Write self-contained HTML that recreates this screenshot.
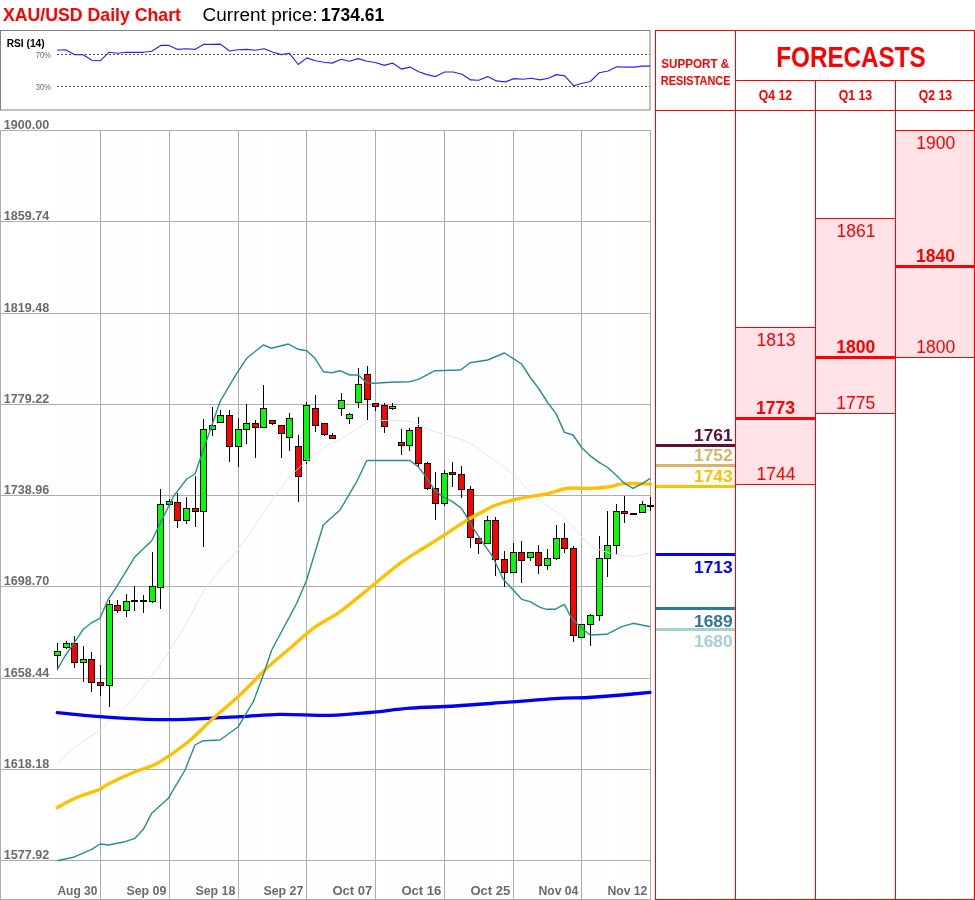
<!DOCTYPE html><html><head><meta charset="utf-8"><style>html,body{margin:0;padding:0;background:#fff;width:975px;height:900px;overflow:hidden}svg{display:block;will-change:transform}text{font-family:"Liberation Sans",sans-serif}</style></head><body>
<svg width="975" height="900" viewBox="0 0 975 900">
<text x="3" y="21" font-size="18.2" font-weight="bold" fill="#ff0000" textLength="178" lengthAdjust="spacingAndGlyphs">XAU/USD Daily Chart</text>
<text x="202.6" y="21" font-size="18" fill="#000" textLength="115" lengthAdjust="spacingAndGlyphs">Current price:</text>
<text x="321" y="21" font-size="18" font-weight="bold" fill="#000" textLength="63.2" lengthAdjust="spacingAndGlyphs">1734.61</text>
<rect x="0.5" y="30.5" width="649.5" height="79.5" fill="none" stroke="#808080" stroke-width="1"/>
<text x="6.7" y="47" font-size="11.3" font-weight="bold" fill="#000" textLength="38" lengthAdjust="spacingAndGlyphs">RSI (14)</text>
<text x="35.8" y="58" font-size="8.5" fill="#666" textLength="15" lengthAdjust="spacingAndGlyphs">70%</text>
<text x="35.8" y="90" font-size="8.5" fill="#666" textLength="15" lengthAdjust="spacingAndGlyphs">30%</text>
<line x1="57" y1="54.5" x2="650" y2="54.5" stroke="#555" stroke-width="1" stroke-dasharray="2,2"/>
<line x1="57" y1="86.5" x2="650" y2="86.5" stroke="#555" stroke-width="1" stroke-dasharray="2,2"/>
<polyline points="57.1,50.3 65.6,49.7 74.5,54.6 82.7,54.6 91.9,60.2 100.1,60.8 108.9,52.3 117.8,53.3 126.0,52.3 135.2,52.3 143.4,52.3 151.6,51.3 160.8,45.4 169.0,45.4 177.8,49.4 186.7,48.7 194.9,49.4 203.4,44.4 212.3,44.4 220.5,44.1 229.4,51.0 237.9,49.7 246.8,49.4 255.0,50.3 264.2,48.7 273.0,52.3 281.2,54.6 289.4,53.3 298.3,64.5 306.8,57.9 315.7,60.8 323.9,62.2 332.1,63.1 341.0,59.2 349.5,61.2 358.0,58.6 366.9,61.2 375.4,62.5 384.3,65.4 392.5,63.1 401.4,69.1 409.9,67.1 418.8,71.7 427.0,74.6 435.8,76.6 444.4,72.0 453.2,72.0 462.1,74.3 470.6,79.9 478.8,80.2 487.7,76.6 496.5,80.9 505.1,81.9 513.9,78.6 522.8,79.2 531.3,78.2 540.2,79.9 548.4,78.2 556.6,74.6 564.8,75.9 573.7,85.8 582.2,83.2 590.4,81.5 599.3,72.7 608.1,71.0 616.7,66.8 625.5,67.1 634.4,67.1 641.9,66.1 650.1,66.1" fill="none" stroke="#2424f4" stroke-width="1.15" stroke-linejoin="round"/>
<line x1="57.5" y1="130" x2="57.5" y2="899" stroke="#fcfcfc" stroke-width="1"/>
<line x1="66.5" y1="130" x2="66.5" y2="899" stroke="#fcfcfc" stroke-width="1"/>
<line x1="74.5" y1="130" x2="74.5" y2="899" stroke="#fcfcfc" stroke-width="1"/>
<line x1="83.5" y1="130" x2="83.5" y2="899" stroke="#fcfcfc" stroke-width="1"/>
<line x1="91.5" y1="130" x2="91.5" y2="899" stroke="#fcfcfc" stroke-width="1"/>
<line x1="100.5" y1="130" x2="100.5" y2="899" stroke="#fcfcfc" stroke-width="1"/>
<line x1="109.5" y1="130" x2="109.5" y2="899" stroke="#fcfcfc" stroke-width="1"/>
<line x1="117.5" y1="130" x2="117.5" y2="899" stroke="#fcfcfc" stroke-width="1"/>
<line x1="126.5" y1="130" x2="126.5" y2="899" stroke="#fcfcfc" stroke-width="1"/>
<line x1="134.5" y1="130" x2="134.5" y2="899" stroke="#fcfcfc" stroke-width="1"/>
<line x1="143.5" y1="130" x2="143.5" y2="899" stroke="#fcfcfc" stroke-width="1"/>
<line x1="152.5" y1="130" x2="152.5" y2="899" stroke="#fcfcfc" stroke-width="1"/>
<line x1="160.5" y1="130" x2="160.5" y2="899" stroke="#fcfcfc" stroke-width="1"/>
<line x1="169.5" y1="130" x2="169.5" y2="899" stroke="#fcfcfc" stroke-width="1"/>
<line x1="177.5" y1="130" x2="177.5" y2="899" stroke="#fcfcfc" stroke-width="1"/>
<line x1="186.5" y1="130" x2="186.5" y2="899" stroke="#fcfcfc" stroke-width="1"/>
<line x1="195.5" y1="130" x2="195.5" y2="899" stroke="#fcfcfc" stroke-width="1"/>
<line x1="203.5" y1="130" x2="203.5" y2="899" stroke="#fcfcfc" stroke-width="1"/>
<line x1="212.5" y1="130" x2="212.5" y2="899" stroke="#fcfcfc" stroke-width="1"/>
<line x1="220.5" y1="130" x2="220.5" y2="899" stroke="#fcfcfc" stroke-width="1"/>
<line x1="229.5" y1="130" x2="229.5" y2="899" stroke="#fcfcfc" stroke-width="1"/>
<line x1="238.5" y1="130" x2="238.5" y2="899" stroke="#fcfcfc" stroke-width="1"/>
<line x1="246.5" y1="130" x2="246.5" y2="899" stroke="#fcfcfc" stroke-width="1"/>
<line x1="255.5" y1="130" x2="255.5" y2="899" stroke="#fcfcfc" stroke-width="1"/>
<line x1="263.5" y1="130" x2="263.5" y2="899" stroke="#fcfcfc" stroke-width="1"/>
<line x1="272.5" y1="130" x2="272.5" y2="899" stroke="#fcfcfc" stroke-width="1"/>
<line x1="281.5" y1="130" x2="281.5" y2="899" stroke="#fcfcfc" stroke-width="1"/>
<line x1="289.5" y1="130" x2="289.5" y2="899" stroke="#fcfcfc" stroke-width="1"/>
<line x1="298.5" y1="130" x2="298.5" y2="899" stroke="#fcfcfc" stroke-width="1"/>
<line x1="306.5" y1="130" x2="306.5" y2="899" stroke="#fcfcfc" stroke-width="1"/>
<line x1="315.5" y1="130" x2="315.5" y2="899" stroke="#fcfcfc" stroke-width="1"/>
<line x1="324.5" y1="130" x2="324.5" y2="899" stroke="#fcfcfc" stroke-width="1"/>
<line x1="332.5" y1="130" x2="332.5" y2="899" stroke="#fcfcfc" stroke-width="1"/>
<line x1="341.5" y1="130" x2="341.5" y2="899" stroke="#fcfcfc" stroke-width="1"/>
<line x1="349.5" y1="130" x2="349.5" y2="899" stroke="#fcfcfc" stroke-width="1"/>
<line x1="358.5" y1="130" x2="358.5" y2="899" stroke="#fcfcfc" stroke-width="1"/>
<line x1="367.5" y1="130" x2="367.5" y2="899" stroke="#fcfcfc" stroke-width="1"/>
<line x1="375.5" y1="130" x2="375.5" y2="899" stroke="#fcfcfc" stroke-width="1"/>
<line x1="384.5" y1="130" x2="384.5" y2="899" stroke="#fcfcfc" stroke-width="1"/>
<line x1="392.5" y1="130" x2="392.5" y2="899" stroke="#fcfcfc" stroke-width="1"/>
<line x1="401.5" y1="130" x2="401.5" y2="899" stroke="#fcfcfc" stroke-width="1"/>
<line x1="409.5" y1="130" x2="409.5" y2="899" stroke="#fcfcfc" stroke-width="1"/>
<line x1="418.5" y1="130" x2="418.5" y2="899" stroke="#fcfcfc" stroke-width="1"/>
<line x1="427.5" y1="130" x2="427.5" y2="899" stroke="#fcfcfc" stroke-width="1"/>
<line x1="435.5" y1="130" x2="435.5" y2="899" stroke="#fcfcfc" stroke-width="1"/>
<line x1="444.5" y1="130" x2="444.5" y2="899" stroke="#fcfcfc" stroke-width="1"/>
<line x1="452.5" y1="130" x2="452.5" y2="899" stroke="#fcfcfc" stroke-width="1"/>
<line x1="461.5" y1="130" x2="461.5" y2="899" stroke="#fcfcfc" stroke-width="1"/>
<line x1="470.5" y1="130" x2="470.5" y2="899" stroke="#fcfcfc" stroke-width="1"/>
<line x1="478.5" y1="130" x2="478.5" y2="899" stroke="#fcfcfc" stroke-width="1"/>
<line x1="487.5" y1="130" x2="487.5" y2="899" stroke="#fcfcfc" stroke-width="1"/>
<line x1="495.5" y1="130" x2="495.5" y2="899" stroke="#fcfcfc" stroke-width="1"/>
<line x1="504.5" y1="130" x2="504.5" y2="899" stroke="#fcfcfc" stroke-width="1"/>
<line x1="513.5" y1="130" x2="513.5" y2="899" stroke="#fcfcfc" stroke-width="1"/>
<line x1="521.5" y1="130" x2="521.5" y2="899" stroke="#fcfcfc" stroke-width="1"/>
<line x1="530.5" y1="130" x2="530.5" y2="899" stroke="#fcfcfc" stroke-width="1"/>
<line x1="538.5" y1="130" x2="538.5" y2="899" stroke="#fcfcfc" stroke-width="1"/>
<line x1="547.5" y1="130" x2="547.5" y2="899" stroke="#fcfcfc" stroke-width="1"/>
<line x1="556.5" y1="130" x2="556.5" y2="899" stroke="#fcfcfc" stroke-width="1"/>
<line x1="564.5" y1="130" x2="564.5" y2="899" stroke="#fcfcfc" stroke-width="1"/>
<line x1="573.5" y1="130" x2="573.5" y2="899" stroke="#fcfcfc" stroke-width="1"/>
<line x1="581.5" y1="130" x2="581.5" y2="899" stroke="#fcfcfc" stroke-width="1"/>
<line x1="590.5" y1="130" x2="590.5" y2="899" stroke="#fcfcfc" stroke-width="1"/>
<line x1="599.5" y1="130" x2="599.5" y2="899" stroke="#fcfcfc" stroke-width="1"/>
<line x1="607.5" y1="130" x2="607.5" y2="899" stroke="#fcfcfc" stroke-width="1"/>
<line x1="616.5" y1="130" x2="616.5" y2="899" stroke="#fcfcfc" stroke-width="1"/>
<line x1="624.5" y1="130" x2="624.5" y2="899" stroke="#fcfcfc" stroke-width="1"/>
<line x1="633.5" y1="130" x2="633.5" y2="899" stroke="#fcfcfc" stroke-width="1"/>
<line x1="642.5" y1="130" x2="642.5" y2="899" stroke="#fcfcfc" stroke-width="1"/>
<line x1="650.5" y1="130" x2="650.5" y2="899" stroke="#fcfcfc" stroke-width="1"/>
<line x1="0" y1="130.5" x2="650" y2="130.5" stroke="#adadad" stroke-width="1"/>
<line x1="0" y1="221.5" x2="650" y2="221.5" stroke="#adadad" stroke-width="1"/>
<line x1="0" y1="313.5" x2="650" y2="313.5" stroke="#adadad" stroke-width="1"/>
<line x1="0" y1="404.5" x2="650" y2="404.5" stroke="#adadad" stroke-width="1"/>
<line x1="0" y1="495.5" x2="650" y2="495.5" stroke="#adadad" stroke-width="1"/>
<line x1="0" y1="586.5" x2="650" y2="586.5" stroke="#adadad" stroke-width="1"/>
<line x1="0" y1="678.5" x2="650" y2="678.5" stroke="#adadad" stroke-width="1"/>
<line x1="0" y1="769.5" x2="650" y2="769.5" stroke="#adadad" stroke-width="1"/>
<line x1="0" y1="860.5" x2="650" y2="860.5" stroke="#adadad" stroke-width="1"/>
<line x1="100.5" y1="130" x2="100.5" y2="899" stroke="#adadad" stroke-width="1"/>
<line x1="169.5" y1="130" x2="169.5" y2="899" stroke="#adadad" stroke-width="1"/>
<line x1="238.5" y1="130" x2="238.5" y2="899" stroke="#adadad" stroke-width="1"/>
<line x1="306.5" y1="130" x2="306.5" y2="899" stroke="#adadad" stroke-width="1"/>
<line x1="375.5" y1="130" x2="375.5" y2="899" stroke="#adadad" stroke-width="1"/>
<line x1="444.5" y1="130" x2="444.5" y2="899" stroke="#adadad" stroke-width="1"/>
<line x1="513.5" y1="130" x2="513.5" y2="899" stroke="#adadad" stroke-width="1"/>
<line x1="581.5" y1="130" x2="581.5" y2="899" stroke="#adadad" stroke-width="1"/>
<line x1="650.5" y1="130" x2="650.5" y2="899" stroke="#adadad" stroke-width="1"/>
<line x1="0.5" y1="130" x2="0.5" y2="899" stroke="#adadad" stroke-width="1"/>
<line x1="0" y1="899.5" x2="651" y2="899.5" stroke="#adadad" stroke-width="1"/>
<text x="3.7" y="129.0" font-size="12.6" font-weight="bold" fill="#6b6b6b" textLength="45.5" lengthAdjust="spacingAndGlyphs">1900.00</text>
<text x="3.7" y="220.2" font-size="12.6" font-weight="bold" fill="#6b6b6b" textLength="45.5" lengthAdjust="spacingAndGlyphs">1859.74</text>
<text x="3.7" y="311.5" font-size="12.6" font-weight="bold" fill="#6b6b6b" textLength="45.5" lengthAdjust="spacingAndGlyphs">1819.48</text>
<text x="3.7" y="402.8" font-size="12.6" font-weight="bold" fill="#6b6b6b" textLength="45.5" lengthAdjust="spacingAndGlyphs">1779.22</text>
<text x="3.7" y="494.0" font-size="12.6" font-weight="bold" fill="#6b6b6b" textLength="45.5" lengthAdjust="spacingAndGlyphs">1738.96</text>
<text x="3.7" y="585.2" font-size="12.6" font-weight="bold" fill="#6b6b6b" textLength="45.5" lengthAdjust="spacingAndGlyphs">1698.70</text>
<text x="3.7" y="676.5" font-size="12.6" font-weight="bold" fill="#6b6b6b" textLength="45.5" lengthAdjust="spacingAndGlyphs">1658.44</text>
<text x="3.7" y="767.8" font-size="12.6" font-weight="bold" fill="#6b6b6b" textLength="45.5" lengthAdjust="spacingAndGlyphs">1618.18</text>
<text x="3.7" y="859.0" font-size="12.6" font-weight="bold" fill="#6b6b6b" textLength="45.5" lengthAdjust="spacingAndGlyphs">1577.92</text>
<text x="97.4" y="895" font-size="13" font-weight="bold" fill="#6b6b6b" text-anchor="end" textLength="40" lengthAdjust="spacingAndGlyphs">Aug 30</text>
<text x="166.4" y="895" font-size="13" font-weight="bold" fill="#6b6b6b" text-anchor="end" textLength="40" lengthAdjust="spacingAndGlyphs">Sep 09</text>
<text x="235.4" y="895" font-size="13" font-weight="bold" fill="#6b6b6b" text-anchor="end" textLength="40" lengthAdjust="spacingAndGlyphs">Sep 18</text>
<text x="303.4" y="895" font-size="13" font-weight="bold" fill="#6b6b6b" text-anchor="end" textLength="40" lengthAdjust="spacingAndGlyphs">Sep 27</text>
<text x="372.4" y="895" font-size="13" font-weight="bold" fill="#6b6b6b" text-anchor="end" textLength="40" lengthAdjust="spacingAndGlyphs">Oct 07</text>
<text x="441.4" y="895" font-size="13" font-weight="bold" fill="#6b6b6b" text-anchor="end" textLength="40" lengthAdjust="spacingAndGlyphs">Oct 16</text>
<text x="510.4" y="895" font-size="13" font-weight="bold" fill="#6b6b6b" text-anchor="end" textLength="40" lengthAdjust="spacingAndGlyphs">Oct 25</text>
<text x="578.4" y="895" font-size="13" font-weight="bold" fill="#6b6b6b" text-anchor="end" textLength="40" lengthAdjust="spacingAndGlyphs">Nov 04</text>
<text x="647.4" y="895" font-size="13" font-weight="bold" fill="#6b6b6b" text-anchor="end" textLength="40" lengthAdjust="spacingAndGlyphs">Nov 12</text>
<rect x="57" y="643" width="1" height="27" fill="#000"/>
<rect x="54" y="651" width="7" height="5" fill="#000"/>
<rect x="55" y="652" width="5" height="3" fill="#00ff00"/>
<rect x="66" y="641" width="1" height="8" fill="#000"/>
<rect x="63" y="643" width="7" height="5" fill="#000"/>
<rect x="64" y="644" width="5" height="3" fill="#00ff00"/>
<rect x="74" y="636" width="1" height="32" fill="#000"/>
<rect x="71" y="643" width="7" height="20" fill="#000"/>
<rect x="72" y="644" width="5" height="18" fill="#ff0000"/>
<rect x="83" y="646" width="1" height="36" fill="#000"/>
<rect x="80" y="659" width="7" height="4" fill="#000"/>
<rect x="81" y="660" width="5" height="2" fill="#00ff00"/>
<rect x="91" y="652" width="1" height="40" fill="#000"/>
<rect x="88" y="659" width="7" height="24" fill="#000"/>
<rect x="89" y="660" width="5" height="22" fill="#ff0000"/>
<rect x="100" y="665" width="1" height="31" fill="#000"/>
<rect x="97" y="682" width="7" height="4" fill="#000"/>
<rect x="98" y="683" width="5" height="2" fill="#ff0000"/>
<rect x="109" y="600" width="1" height="107" fill="#000"/>
<rect x="106" y="604" width="7" height="82" fill="#000"/>
<rect x="107" y="605" width="5" height="80" fill="#00ff00"/>
<rect x="117" y="600" width="1" height="13" fill="#000"/>
<rect x="114" y="605" width="7" height="6" fill="#000"/>
<rect x="115" y="606" width="5" height="4" fill="#ff0000"/>
<rect x="126" y="594" width="1" height="23" fill="#000"/>
<rect x="123" y="601" width="7" height="10" fill="#000"/>
<rect x="124" y="602" width="5" height="8" fill="#00ff00"/>
<rect x="134" y="586" width="1" height="25" fill="#000"/>
<rect x="131" y="600" width="7" height="2" fill="#000"/>
<rect x="143" y="595" width="1" height="18" fill="#000"/>
<rect x="140" y="600" width="7" height="2" fill="#000"/>
<rect x="152" y="552" width="1" height="51" fill="#000"/>
<rect x="149" y="586" width="7" height="16" fill="#000"/>
<rect x="150" y="587" width="5" height="14" fill="#00ff00"/>
<rect x="160" y="489" width="1" height="120" fill="#000"/>
<rect x="157" y="504" width="7" height="84" fill="#000"/>
<rect x="158" y="505" width="5" height="82" fill="#00ff00"/>
<rect x="169" y="499" width="1" height="7" fill="#000"/>
<rect x="166" y="501" width="7" height="4" fill="#000"/>
<rect x="167" y="502" width="5" height="2" fill="#00ff00"/>
<rect x="177" y="493" width="1" height="35" fill="#000"/>
<rect x="174" y="502" width="7" height="19" fill="#000"/>
<rect x="175" y="503" width="5" height="17" fill="#ff0000"/>
<rect x="186" y="497" width="1" height="27" fill="#000"/>
<rect x="183" y="508" width="7" height="13" fill="#000"/>
<rect x="184" y="509" width="5" height="11" fill="#00ff00"/>
<rect x="195" y="476" width="1" height="51" fill="#000"/>
<rect x="192" y="508" width="7" height="4" fill="#000"/>
<rect x="193" y="509" width="5" height="2" fill="#ff0000"/>
<rect x="203" y="419" width="1" height="128" fill="#000"/>
<rect x="200" y="429" width="7" height="83" fill="#000"/>
<rect x="201" y="430" width="5" height="81" fill="#00ff00"/>
<rect x="212" y="407" width="1" height="29" fill="#000"/>
<rect x="209" y="425" width="7" height="5" fill="#000"/>
<rect x="210" y="426" width="5" height="3" fill="#00ff00"/>
<rect x="220" y="410" width="1" height="13" fill="#000"/>
<rect x="217" y="415" width="7" height="8" fill="#000"/>
<rect x="218" y="416" width="5" height="6" fill="#00ff00"/>
<rect x="229" y="410" width="1" height="52" fill="#000"/>
<rect x="226" y="415" width="7" height="32" fill="#000"/>
<rect x="227" y="416" width="5" height="30" fill="#ff0000"/>
<rect x="238" y="418" width="1" height="49" fill="#000"/>
<rect x="235" y="429" width="7" height="18" fill="#000"/>
<rect x="236" y="430" width="5" height="16" fill="#00ff00"/>
<rect x="246" y="404" width="1" height="40" fill="#000"/>
<rect x="243" y="423" width="7" height="7" fill="#000"/>
<rect x="244" y="424" width="5" height="5" fill="#00ff00"/>
<rect x="255" y="420" width="1" height="38" fill="#000"/>
<rect x="252" y="423" width="7" height="5" fill="#000"/>
<rect x="253" y="424" width="5" height="3" fill="#ff0000"/>
<rect x="263" y="385" width="1" height="43" fill="#000"/>
<rect x="260" y="408" width="7" height="20" fill="#000"/>
<rect x="261" y="409" width="5" height="18" fill="#00ff00"/>
<rect x="272" y="420" width="1" height="5" fill="#000"/>
<rect x="269" y="420" width="7" height="4" fill="#000"/>
<rect x="270" y="421" width="5" height="2" fill="#ff0000"/>
<rect x="281" y="425" width="1" height="33" fill="#000"/>
<rect x="278" y="425" width="7" height="9" fill="#000"/>
<rect x="279" y="426" width="5" height="7" fill="#ff0000"/>
<rect x="289" y="413" width="1" height="38" fill="#000"/>
<rect x="286" y="418" width="7" height="20" fill="#000"/>
<rect x="287" y="419" width="5" height="18" fill="#00ff00"/>
<rect x="298" y="435" width="1" height="67" fill="#000"/>
<rect x="295" y="446" width="7" height="31" fill="#000"/>
<rect x="296" y="447" width="5" height="29" fill="#ff0000"/>
<rect x="306" y="402" width="1" height="62" fill="#000"/>
<rect x="303" y="405" width="7" height="56" fill="#000"/>
<rect x="304" y="406" width="5" height="54" fill="#00ff00"/>
<rect x="315" y="395" width="1" height="37" fill="#000"/>
<rect x="312" y="408" width="7" height="18" fill="#000"/>
<rect x="313" y="409" width="5" height="16" fill="#ff0000"/>
<rect x="324" y="423" width="1" height="13" fill="#000"/>
<rect x="321" y="423" width="7" height="12" fill="#000"/>
<rect x="322" y="424" width="5" height="10" fill="#ff0000"/>
<rect x="332" y="433" width="1" height="6" fill="#000"/>
<rect x="329" y="435" width="7" height="4" fill="#000"/>
<rect x="330" y="436" width="5" height="2" fill="#ff0000"/>
<rect x="341" y="393" width="1" height="23" fill="#000"/>
<rect x="338" y="400" width="7" height="9" fill="#000"/>
<rect x="339" y="401" width="5" height="7" fill="#00ff00"/>
<rect x="349" y="413" width="1" height="11" fill="#000"/>
<rect x="346" y="414" width="7" height="5" fill="#000"/>
<rect x="347" y="415" width="5" height="3" fill="#00ff00"/>
<rect x="358" y="368" width="1" height="40" fill="#000"/>
<rect x="355" y="384" width="7" height="19" fill="#000"/>
<rect x="356" y="385" width="5" height="17" fill="#00ff00"/>
<rect x="367" y="366" width="1" height="54" fill="#000"/>
<rect x="364" y="374" width="7" height="26" fill="#000"/>
<rect x="365" y="375" width="5" height="24" fill="#ff0000"/>
<rect x="375" y="403" width="1" height="8" fill="#000"/>
<rect x="372" y="403" width="7" height="4" fill="#000"/>
<rect x="373" y="404" width="5" height="2" fill="#ff0000"/>
<rect x="384" y="403" width="1" height="30" fill="#000"/>
<rect x="381" y="405" width="7" height="22" fill="#000"/>
<rect x="382" y="406" width="5" height="20" fill="#ff0000"/>
<rect x="392" y="403" width="1" height="7" fill="#000"/>
<rect x="389" y="406" width="7" height="3" fill="#000"/>
<rect x="390" y="407" width="5" height="1" fill="#00ff00"/>
<rect x="401" y="429" width="1" height="26" fill="#000"/>
<rect x="398" y="442" width="7" height="4" fill="#000"/>
<rect x="399" y="443" width="5" height="2" fill="#ff0000"/>
<rect x="409" y="428" width="1" height="23" fill="#000"/>
<rect x="406" y="430" width="7" height="16" fill="#000"/>
<rect x="407" y="431" width="5" height="14" fill="#00ff00"/>
<rect x="418" y="417" width="1" height="50" fill="#000"/>
<rect x="415" y="427" width="7" height="37" fill="#000"/>
<rect x="416" y="428" width="5" height="35" fill="#ff0000"/>
<rect x="427" y="462" width="1" height="28" fill="#000"/>
<rect x="424" y="463" width="7" height="26" fill="#000"/>
<rect x="425" y="464" width="5" height="24" fill="#ff0000"/>
<rect x="435" y="472" width="1" height="48" fill="#000"/>
<rect x="432" y="488" width="7" height="16" fill="#000"/>
<rect x="433" y="489" width="5" height="14" fill="#ff0000"/>
<rect x="444" y="470" width="1" height="36" fill="#000"/>
<rect x="441" y="473" width="7" height="31" fill="#000"/>
<rect x="442" y="474" width="5" height="29" fill="#00ff00"/>
<rect x="452" y="462" width="1" height="25" fill="#000"/>
<rect x="449" y="472" width="7" height="3" fill="#000"/>
<rect x="450" y="473" width="5" height="1" fill="#ff0000"/>
<rect x="461" y="466" width="1" height="32" fill="#000"/>
<rect x="458" y="474" width="7" height="16" fill="#000"/>
<rect x="459" y="475" width="5" height="14" fill="#ff0000"/>
<rect x="470" y="486" width="1" height="62" fill="#000"/>
<rect x="467" y="489" width="7" height="49" fill="#000"/>
<rect x="468" y="490" width="5" height="47" fill="#ff0000"/>
<rect x="478" y="538" width="1" height="16" fill="#000"/>
<rect x="475" y="538" width="7" height="6" fill="#000"/>
<rect x="476" y="539" width="5" height="4" fill="#ff0000"/>
<rect x="487" y="516" width="1" height="28" fill="#000"/>
<rect x="484" y="520" width="7" height="24" fill="#000"/>
<rect x="485" y="521" width="5" height="22" fill="#00ff00"/>
<rect x="495" y="517" width="1" height="59" fill="#000"/>
<rect x="492" y="520" width="7" height="40" fill="#000"/>
<rect x="493" y="521" width="5" height="38" fill="#ff0000"/>
<rect x="504" y="551" width="1" height="36" fill="#000"/>
<rect x="501" y="559" width="7" height="14" fill="#000"/>
<rect x="502" y="560" width="5" height="12" fill="#ff0000"/>
<rect x="513" y="543" width="1" height="30" fill="#000"/>
<rect x="510" y="552" width="7" height="21" fill="#000"/>
<rect x="511" y="553" width="5" height="19" fill="#00ff00"/>
<rect x="521" y="541" width="1" height="42" fill="#000"/>
<rect x="518" y="552" width="7" height="9" fill="#000"/>
<rect x="519" y="553" width="5" height="7" fill="#ff0000"/>
<rect x="530" y="552" width="1" height="9" fill="#000"/>
<rect x="527" y="552" width="7" height="6" fill="#000"/>
<rect x="528" y="553" width="5" height="4" fill="#00ff00"/>
<rect x="538" y="545" width="1" height="29" fill="#000"/>
<rect x="535" y="552" width="7" height="14" fill="#000"/>
<rect x="536" y="553" width="5" height="12" fill="#ff0000"/>
<rect x="547" y="549" width="1" height="21" fill="#000"/>
<rect x="544" y="558" width="7" height="8" fill="#000"/>
<rect x="545" y="559" width="5" height="6" fill="#00ff00"/>
<rect x="556" y="525" width="1" height="35" fill="#000"/>
<rect x="553" y="538" width="7" height="21" fill="#000"/>
<rect x="554" y="539" width="5" height="19" fill="#00ff00"/>
<rect x="564" y="523" width="1" height="30" fill="#000"/>
<rect x="561" y="538" width="7" height="11" fill="#000"/>
<rect x="562" y="539" width="5" height="9" fill="#ff0000"/>
<rect x="573" y="546" width="1" height="96" fill="#000"/>
<rect x="570" y="548" width="7" height="88" fill="#000"/>
<rect x="571" y="549" width="5" height="86" fill="#ff0000"/>
<rect x="581" y="624" width="1" height="14" fill="#000"/>
<rect x="578" y="624" width="7" height="14" fill="#000"/>
<rect x="579" y="625" width="5" height="12" fill="#00ff00"/>
<rect x="590" y="614" width="1" height="32" fill="#000"/>
<rect x="587" y="615" width="7" height="10" fill="#000"/>
<rect x="588" y="616" width="5" height="8" fill="#00ff00"/>
<rect x="599" y="536" width="1" height="85" fill="#000"/>
<rect x="596" y="558" width="7" height="58" fill="#000"/>
<rect x="597" y="559" width="5" height="56" fill="#00ff00"/>
<rect x="607" y="511" width="1" height="66" fill="#000"/>
<rect x="604" y="545" width="7" height="14" fill="#000"/>
<rect x="605" y="546" width="5" height="12" fill="#00ff00"/>
<rect x="616" y="504" width="1" height="51" fill="#000"/>
<rect x="613" y="511" width="7" height="35" fill="#000"/>
<rect x="614" y="512" width="5" height="33" fill="#00ff00"/>
<rect x="624" y="496" width="1" height="27" fill="#000"/>
<rect x="621" y="511" width="7" height="3" fill="#000"/>
<rect x="622" y="512" width="5" height="1" fill="#ff0000"/>
<rect x="633" y="513" width="1" height="1" fill="#000"/>
<rect x="630" y="513" width="7" height="2" fill="#000"/>
<rect x="642" y="501" width="1" height="12" fill="#000"/>
<rect x="639" y="504" width="7" height="9" fill="#000"/>
<rect x="640" y="505" width="5" height="7" fill="#00ff00"/>
<rect x="650" y="497" width="1" height="14" fill="#000"/>
<rect x="647" y="505" width="7" height="2" fill="#000"/>
<path d="M57.3,764.0 C58.9,762.3 62.4,757.8 66.7,754.0 C71.0,750.2 77.8,745.0 83.3,741.0 C88.8,737.0 95.3,733.8 100.0,730.0 C104.7,726.2 106.7,723.0 111.7,718.3 C116.7,713.6 123.6,708.4 130.0,701.7 C136.4,695.0 143.9,686.1 150.0,678.3 C156.1,670.5 160.3,664.7 166.7,655.0 C173.1,645.3 181.6,631.4 188.3,620.0 C195.0,608.6 198.1,598.9 206.7,586.7 C215.3,574.5 228.9,561.4 240.0,546.7 C251.1,532.0 264.4,510.5 273.3,498.3 C282.2,486.1 285.0,481.6 293.3,473.3 C301.6,465.0 315.5,454.0 323.3,448.3 C331.1,442.6 332.8,443.6 340.0,439.3 C347.2,435.0 361.1,425.8 366.7,422.7 C372.2,419.6 366.1,420.9 373.3,420.7 C380.5,420.5 400.6,420.1 410.0,421.7 C419.4,423.2 420.6,426.7 430.0,430.0 C439.4,433.3 457.2,437.5 466.7,441.7 C476.1,445.9 479.5,450.0 486.7,455.0 C493.9,460.0 501.9,464.8 510.0,471.7 C518.0,478.6 528.6,490.5 535.0,496.3 C541.4,502.1 543.8,503.1 548.3,506.3 C552.8,509.5 557.2,511.9 561.7,515.7 C566.2,519.5 570.6,524.3 575.0,529.0 C579.4,533.7 584.5,540.4 588.3,543.7 C592.1,547.0 593.2,547.2 597.7,549.0 C602.2,550.8 609.1,553.1 615.0,554.3 C620.9,555.5 627.2,556.5 633.0,556.3 C638.8,556.1 646.9,553.5 649.7,553.0" fill="none" stroke="#e4e4e4" stroke-width="1"/>
<path d="M57.3,712.7 C64.4,713.4 85.1,715.6 100.0,716.7 C114.9,717.8 132.2,718.9 146.7,719.3 C161.1,719.7 171.1,719.7 186.7,719.3 C202.2,718.9 224.4,717.5 240.0,716.7 C255.6,715.9 265.0,714.5 280.0,714.3 C295.0,714.1 315.0,715.7 330.0,715.4 C345.0,715.1 356.7,713.7 370.0,712.5 C383.3,711.3 395.8,709.3 410.0,708.2 C424.2,707.1 438.7,707.0 455.0,706.0 C471.3,705.0 491.1,703.4 507.8,702.2 C524.5,701.0 541.6,699.4 555.0,698.6 C568.4,697.8 577.2,698.1 588.3,697.5 C599.4,696.9 611.4,695.9 621.7,695.0 C632.0,694.1 645.3,692.8 650.0,692.4" fill="none" stroke="#0000f0" stroke-width="3.3" stroke-linecap="round"/>
<path d="M57.3,807.7 C60.2,806.1 67.9,801.4 75.0,798.3 C82.1,795.2 94.5,791.7 100.0,789.3 C105.5,786.9 102.5,786.9 108.3,784.0 C114.1,781.1 127.8,774.7 135.0,771.7 C142.2,768.7 147.2,767.8 151.7,766.0 C156.1,764.2 155.6,764.8 161.7,760.7 C167.8,756.7 179.7,748.8 188.3,741.7 C196.9,734.6 204.7,726.1 213.3,718.3 C221.9,710.5 231.1,703.3 240.0,695.0 C248.9,686.7 258.4,676.1 266.7,668.3 C275.0,660.5 282.2,655.0 290.0,648.3 C297.8,641.6 305.0,634.4 313.3,628.3 C321.6,622.2 330.0,618.9 340.0,611.7 C350.0,604.5 363.3,593.1 373.3,585.0 C383.3,576.9 391.7,569.4 400.0,563.3 C408.3,557.2 415.6,553.2 423.3,548.3 C431.0,543.4 438.7,538.7 446.0,534.0 C453.3,529.3 460.6,524.0 467.3,520.0 C474.0,516.0 481.2,512.5 486.0,510.0 C490.8,507.5 491.5,506.7 496.0,505.0 C500.5,503.3 507.3,501.4 513.0,500.0 C518.7,498.6 524.5,497.6 530.0,496.6 C535.5,495.6 540.3,495.3 546.0,494.0 C551.7,492.7 559.5,490.0 564.0,489.0 C568.5,488.0 568.5,488.1 573.0,488.0 C577.5,487.9 585.2,488.6 591.0,488.4 C596.8,488.2 602.5,487.8 608.0,487.0 C613.5,486.2 616.9,484.1 624.0,483.6 C631.1,483.1 646.0,483.9 650.4,484.0" fill="none" stroke="#ffc000" stroke-width="3.4" stroke-linecap="round"/>
<polyline points="57.3,669.3 65.0,656.0 75.0,641.7 83.3,629.3 91.7,622.7 100.0,618.3 108.3,599.3 116.7,586.7 135.0,556.7 151.7,540.7 173.3,496.7 186.7,479.0 195.0,474.0 220.0,401.7 236.7,373.3 246.7,358.3 263.3,345.0 271.7,348.3 288.3,344.0 298.3,349.3 306.7,350.7 315.0,358.3 323.3,371.7 331.7,372.7 340.0,370.7 350.0,375.0 358.3,375.0 366.7,382.7 375.0,383.3 390.0,382.3 410.0,381.7 418.3,379.3 435.0,370.7 460.7,370.0 470.0,362.7 487.6,360.0 504.4,353.0 513.0,358.4 521.6,364.0 530.0,377.0 539.0,389.0 548.0,403.0 556.0,413.6 564.4,432.4 573.0,435.0 582.0,448.0 590.0,455.6 599.0,462.4 607.0,467.0 616.0,475.0 624.0,483.0 633.0,488.4 642.0,483.6 650.4,478.4" fill="none" stroke="#2a8c8c" stroke-width="1.4" stroke-linejoin="round"/>
<polyline points="57.3,860.7 73.3,857.3 91.7,849.3 100.0,844.0 108.3,845.0 125.0,841.7 135.0,838.3 143.3,829.3 151.7,813.3 168.3,798.3 185.0,770.0 195.0,745.0 203.3,740.7 220.0,740.0 238.3,726.7 253.3,701.7 263.3,675.0 271.7,650.0 296.7,603.3 306.7,580.0 323.3,525.0 340.0,510.0 356.7,481.7 366.7,460.5 410.0,460.5 417.8,466.4 424.9,475.3 435.1,490.9 445.3,498.0 452.4,501.6 461.3,508.2 468.4,519.3 473.8,529.1 483.3,543.3 492.7,556.7 503.3,579.3 521.7,599.3 530.0,601.7 540.0,607.3 546.7,609.3 555.0,609.3 564.3,604.3 571.7,618.3 581.7,628.3 590.0,635.0 606.7,634.3 621.7,626.7 633.3,623.3 650.0,626.7" fill="none" stroke="#2a8c8c" stroke-width="1.4" stroke-linejoin="round"/>
<rect x="735" y="327" width="81" height="158" fill="#ffe3e6"/>
<rect x="735" y="327" width="81" height="1" fill="#ff0000"/>
<rect x="735" y="484" width="81" height="1" fill="#ff0000"/>
<rect x="815" y="218" width="81" height="196" fill="#ffe3e6"/>
<rect x="815" y="218" width="81" height="1" fill="#ff0000"/>
<rect x="815" y="413" width="81" height="1" fill="#ff0000"/>
<rect x="895" y="130" width="80" height="228" fill="#ffe3e6"/>
<rect x="895" y="130" width="80" height="1" fill="#ff0000"/>
<rect x="895" y="357" width="80" height="1" fill="#ff0000"/>
<rect x="655" y="30" width="320" height="1" fill="#ff0000"/>
<rect x="655" y="899" width="320" height="1" fill="#ff0000"/>
<rect x="655" y="30" width="1" height="870" fill="#ff0000"/>
<rect x="974" y="30" width="1" height="870" fill="#ff0000"/>
<rect x="735" y="30" width="1" height="870" fill="#ff0000"/>
<rect x="815" y="80" width="1" height="820" fill="#ff0000"/>
<rect x="895" y="80" width="1" height="820" fill="#ff0000"/>
<rect x="735" y="80" width="240" height="1" fill="#ff0000"/>
<rect x="655" y="110" width="320" height="1" fill="#ff0000"/>
<rect x="735" y="417" width="80" height="3" fill="#ff0000"/>
<rect x="815" y="356" width="80" height="3" fill="#ff0000"/>
<rect x="895" y="265" width="80" height="3" fill="#ff0000"/>
<text x="661.2" y="68" font-size="12.8" font-weight="bold" fill="#ff0000" textLength="68" lengthAdjust="spacingAndGlyphs">SUPPORT &amp;</text>
<text x="660.8" y="84.7" font-size="12.8" font-weight="bold" fill="#ff0000" textLength="69.7" lengthAdjust="spacingAndGlyphs">RESISTANCE</text>
<text x="776.2" y="67" font-size="30" font-weight="bold" fill="#ff0000" textLength="149.6" lengthAdjust="spacingAndGlyphs">FORECASTS</text>
<text x="758.8" y="100.3" font-size="13.8" font-weight="bold" fill="#ff0000" textLength="33.2" lengthAdjust="spacingAndGlyphs">Q4 12</text>
<text x="838.7" y="100.3" font-size="13.8" font-weight="bold" fill="#ff0000" textLength="33.3" lengthAdjust="spacingAndGlyphs">Q1 13</text>
<text x="918.8" y="100.3" font-size="13.8" font-weight="bold" fill="#ff0000" textLength="33.2" lengthAdjust="spacingAndGlyphs">Q2 13</text>
<text x="756.4" y="345.9" font-size="18.3"  fill="#ff0000" textLength="39" lengthAdjust="spacingAndGlyphs">1813</text>
<text x="755.9" y="413.9" font-size="18.3" font-weight="bold" fill="#ff0000" textLength="39" lengthAdjust="spacingAndGlyphs">1773</text>
<text x="756.4" y="479.6" font-size="18.3"  fill="#ff0000" textLength="39" lengthAdjust="spacingAndGlyphs">1744</text>
<text x="836.6" y="237.2" font-size="18.3"  fill="#ff0000" textLength="39" lengthAdjust="spacingAndGlyphs">1861</text>
<text x="836.2" y="352.7" font-size="18.3" font-weight="bold" fill="#ff0000" textLength="39" lengthAdjust="spacingAndGlyphs">1800</text>
<text x="836.3" y="408.8" font-size="18.3"  fill="#ff0000" textLength="39" lengthAdjust="spacingAndGlyphs">1775</text>
<text x="916.3" y="148.8" font-size="18.3"  fill="#ff0000" textLength="39" lengthAdjust="spacingAndGlyphs">1900</text>
<text x="916.0" y="262.0" font-size="18.3" font-weight="bold" fill="#ff0000" textLength="39" lengthAdjust="spacingAndGlyphs">1840</text>
<text x="916.3" y="352.7" font-size="18.3"  fill="#ff0000" textLength="39" lengthAdjust="spacingAndGlyphs">1800</text>
<rect x="656" y="444" width="79" height="3" fill="#5c0d38"/>
<text x="732.7" y="440.7" font-size="17.4" font-weight="bold" fill="#5c0d38" text-anchor="end" textLength="38.7" lengthAdjust="spacingAndGlyphs">1761</text>
<rect x="656" y="464" width="79" height="3" fill="#d8b46a"/>
<text x="732.7" y="460.7" font-size="17.4" font-weight="bold" fill="#d8b46a" text-anchor="end" textLength="38.7" lengthAdjust="spacingAndGlyphs">1752</text>
<rect x="656" y="485" width="79" height="3" fill="#ffc000"/>
<text x="732.7" y="481.6" font-size="17.4" font-weight="bold" fill="#ffc000" text-anchor="end" textLength="38.7" lengthAdjust="spacingAndGlyphs">1743</text>
<rect x="656" y="553" width="79" height="3" fill="#0000ff"/>
<text x="732.7" y="572.7" font-size="17.4" font-weight="bold" fill="#0000ff" text-anchor="end" textLength="38.7" lengthAdjust="spacingAndGlyphs">1713</text>
<rect x="656" y="607" width="79" height="3" fill="#31759f"/>
<text x="732.7" y="626.7" font-size="17.4" font-weight="bold" fill="#31759f" text-anchor="end" textLength="38.7" lengthAdjust="spacingAndGlyphs">1689</text>
<rect x="656" y="628" width="79" height="3" fill="#a8d0d0"/>
<text x="732.7" y="647.3" font-size="17.4" font-weight="bold" fill="#a8d0d0" text-anchor="end" textLength="38.7" lengthAdjust="spacingAndGlyphs">1680</text>
</svg></body></html>
